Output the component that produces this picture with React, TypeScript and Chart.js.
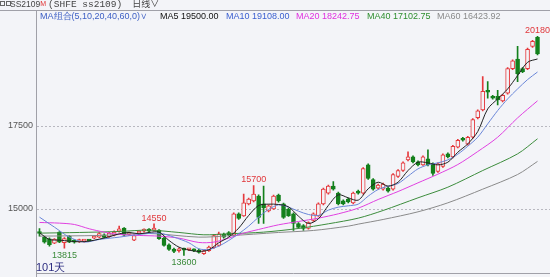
import React, { useEffect, useRef } from "react";
import { Chart, registerables } from "chart.js";

Chart.register(...registerables);

const FONT = '"Liberation Sans", Arial, sans-serif';
const BG = "#f3f4f8";
const UP = "#e5393d";
const DOWN = "#13801c";

// ---- data (101 trading days) ----
const opens = [
  14300, 14150, 14100, 13970, 14300, 13980, 14180, 14060, 14020, 14030,
  14045, 14120, 14150, 14220, 14160, 14210, 14330, 14420, 14230, 14060,
  14270, 14330, 14380, 14360, 14360, 14120, 13920, 13790, 13740, 13790,
  13770, 13780, 13760, 13650, 13740, 13830, 13900, 14240, 14290, 14210,
  14850, 14790, 15150, 15235, 15380, 15150, 14940, 15000, 15410, 15150,
  14990, 14850, 14560, 14500, 14410, 14650, 14790, 15150, 15470, 15680,
  15470, 15240, 15290, 15180, 15530, 15470, 16320, 15880, 15620, 15590,
  15620, 15590, 15970, 16150, 16470, 16560, 16410, 16320, 16500, 16350,
  16120, 16270, 16650, 16560, 16850, 17120, 16940, 17150, 17740, 17970,
  18560, 18380, 18380, 18240, 18470, 19210, 19500, 19210, 19210, 19880,
  20150,
];
const highs = [
  14410, 14180, 14130, 14110, 14320, 14140, 14200, 14080, 14090, 14080,
  14070, 14190, 14290, 14250, 14300, 14340, 14480, 14440, 14300, 14230,
  14330, 14400, 14410, 14550, 14380, 14150, 13950, 13820, 13830, 13820,
  13810, 13800, 13790, 13760, 13880, 14230, 14300, 14270, 14320, 14880,
  14880, 15440, 15320, 15700, 15420, 15680, 15120, 15410, 15440, 15170,
  15020, 14880, 14590, 14530, 14610, 14880, 15180, 15620, 15710, 15820,
  15500, 15270, 15320, 15500, 15560, 16240, 16350, 15910, 15740, 15770,
  15650, 16060, 16180, 16410, 16710, 16590, 16440, 16590, 16770, 16380,
  16380, 16650, 16680, 16910, 17090, 17150, 17180, 17710, 17970, 18970,
  18820, 18410, 18560, 18440, 19240, 19470, 19880, 19240, 19830, 20060,
  20180,
];
const lows = [
  14180, 13970, 13880, 13950, 13980, 13815, 13980, 13970, 13990, 14000,
  14010, 14100, 14130, 14120, 14140, 14190, 14300, 14190, 14200, 14040,
  14250, 14300, 14300, 14340, 14080, 13880, 13750, 13680, 13700, 13600,
  13740, 13710, 13670, 13630, 13720, 13810, 13880, 14120, 14190, 14180,
  14680, 14770, 15120, 15210, 14560, 14560, 14910, 14980, 15200, 14710,
  14770, 14350, 14410, 14350, 14390, 14620, 14770, 15120, 15440, 15560,
  15120, 15120, 15180, 15150, 15440, 15440, 15880, 15560, 15590, 15560,
  15500, 15560, 15940, 16120, 16440, 16380, 16290, 16300, 16290, 16000,
  16090, 16240, 16530, 16530, 16830, 17030, 16910, 17120, 17700, 17940,
  18320, 18290, 18120, 18210, 18440, 19180, 18820, 19090, 19180, 19850,
  19620,
];
const closes = [
  14260, 14000, 13920, 14090, 14000, 14110, 14000, 14000, 14050, 14060,
  14030, 14160, 14260, 14140, 14270, 14300, 14400, 14210, 14270, 14200,
  14300, 14360, 14330, 14390, 14100, 13900, 13780, 13720, 13800, 13760,
  13780, 13740, 13690, 13740, 13850, 14200, 14250, 14150, 14210, 14850,
  14710, 15180, 15290, 15440, 14740, 15030, 15090, 15380, 15240, 14740,
  14790, 14560, 14440, 14410, 14590, 14850, 15150, 15590, 15680, 15590,
  15150, 15150, 15210, 15470, 15470, 16210, 15910, 15590, 15710, 15740,
  15530, 16030, 16150, 16380, 16560, 16410, 16320, 16560, 16320, 16060,
  16350, 16620, 16560, 16880, 17060, 17060, 17150, 17680, 17940, 18530,
  18500, 18320, 18270, 18410, 19210, 19440, 19060, 19120, 19790, 20030,
  19650,
];

// moving-average lines as [day index, value]
const ma5Pts: [number, number][] = [
  [0, 14280], [2, 14080], [4, 14060], [6, 14030], [8, 14010], [10, 14030],
  [12, 14090], [14, 14160], [16, 14250], [18, 14290], [20, 14250], [22, 14290],
  [24, 14300], [26, 14050], [28, 13850], [30, 13760], [32, 13720], [34, 13770],
  [36, 13980], [38, 14150], [40, 14420], [42, 14800], [44, 15100], [46, 15140],
  [48, 15130], [50, 15060], [52, 14780], [54, 14560], [56, 14700], [58, 15100],
  [60, 15420], [62, 15330], [64, 15260], [66, 15600], [68, 15800], [70, 15680],
  [72, 15800], [74, 16150], [76, 16400], [78, 16380], [80, 16320], [82, 16400],
  [84, 16700], [86, 16950], [88, 17320], [90, 18000], [92, 18300], [94, 18600],
  [96, 19000], [98, 19400], [100, 19500],
];
const ma10Pts: [number, number][] = [
  [0, 14750], [3, 14450], [6, 14150], [9, 14000], [12, 14080], [16, 14150],
  [20, 14230], [24, 14270], [27, 14150], [30, 13980], [32, 13800], [34, 13780],
  [36, 13880], [38, 14050], [40, 14250], [42, 14480], [44, 14750], [46, 14980],
  [48, 15120], [50, 15050], [52, 14930], [54, 14830], [56, 14800], [58, 14960],
  [60, 15050], [62, 15090], [64, 15140], [66, 15380], [68, 15580], [70, 15680],
  [72, 15760], [74, 15980], [76, 16200], [78, 16320], [80, 16380], [82, 16470],
  [84, 16640], [86, 16880], [88, 17150], [90, 17550], [92, 17950], [94, 18300],
  [96, 18600], [98, 18880], [100, 19108],
];
const ma20Pts: [number, number][] = [
  [0, 14590], [4, 14570], [7, 14530], [10, 14400], [13, 14300], [16, 14230],
  [20, 14200], [24, 14180], [28, 14120], [32, 13990], [35, 14000], [38, 14120],
  [41, 14270], [44, 14380], [48, 14520], [52, 14620], [56, 14720], [60, 14850],
  [64, 15020], [68, 15280], [72, 15520], [76, 15780], [80, 16040], [84, 16330],
  [88, 16720], [92, 17150], [96, 17730], [100, 18243],
];
const ma40Pts: [number, number][] = [
  [0, 14270], [8, 14290], [16, 14320], [22, 14360], [28, 14290], [33, 14220],
  [38, 14250], [45, 14300], [52, 14410], [58, 14550], [64, 14720], [69, 14950],
  [76, 15330], [82, 15650], [89, 16150], [96, 16650], [100, 17103],
];
const ma60Pts: [number, number][] = [
  [0, 14180], [12, 14200], [22, 14260], [32, 14150], [38, 14190], [48, 14290],
  [55, 14350], [62, 14480], [64, 14540], [69, 14680], [76, 14910], [82, 15180],
  [89, 15590], [96, 16030], [100, 16424],
];

const yTicks = [15000, 17500];
const dayLabels = opens.map((_, i) => `D${i + 1}`);

const extremes = [
  { idx: 100, value: 20180, text: "20180", up: true },
  { idx: 43, value: 15700, text: "15700", up: true },
  { idx: 23, value: 14550, text: "14550", up: true },
  { idx: 5, value: 13815, text: "13815", up: false },
  { idx: 29, value: 13600, text: "13600", up: false },
];

const legendItems = [
  { text: "MA5 19500.00", color: "#111111", x: 160 },
  { text: "MA10 19108.00", color: "#3b5fd0", x: 226 },
  { text: "MA20 18242.75", color: "#e030e0", x: 296 },
  { text: "MA40 17102.75", color: "#2f8f2f", x: 367 },
  { text: "MA60 16423.92", color: "#8a8a8a", x: 437 },
];

function sparse(pts: [number, number][]) {
  const a: (number | null)[] = opens.map(() => null);
  pts.forEach(([i, v]) => {
    a[i] = v;
  });
  return a;
}

const framePlugin = {
  id: "frame",
  beforeDatasetsDraw(chart: any) {
    const { ctx, scales, width } = chart;
    const y = scales.y;
    const left = chart.chartArea.left;
    ctx.save();
    ctx.strokeStyle = "#b8b8c0";
    ctx.lineWidth = 1;
    ctx.setLineDash([2, 2]);
    yTicks.forEach((v) => {
      const py = Math.round(y.getPixelForValue(v)) + 0.5;
      ctx.beginPath();
      ctx.moveTo(left, py);
      ctx.lineTo(width, py);
      ctx.stroke();
    });
    ctx.setLineDash([]);
    ctx.strokeStyle = "#a0a0a8";
    ctx.beginPath();
    ctx.moveTo(0, 10.5);
    ctx.lineTo(width, 10.5);
    ctx.moveTo(left - 0.5, 10);
    ctx.lineTo(left - 0.5, 277);
    ctx.moveTo(left, 273.5);
    ctx.lineTo(width, 273.5);
    ctx.stroke();
    ctx.restore();
  },
  afterDatasetsDraw(chart: any) {
    const { ctx, scales } = chart;
    ctx.save();
    ctx.font = `9px ${FONT}`;
    ctx.textAlign = "center";
    extremes.forEach((e) => {
      const px = scales.x.getPixelForValue(e.idx);
      const py = scales.y.getPixelForValue(e.value);
      if (e.up) {
        ctx.fillStyle = "#e0363a";
        ctx.textBaseline = "bottom";
        ctx.fillText(e.text, px, py - 1);
      } else {
        ctx.fillStyle = "#3a8a3a";
        ctx.textBaseline = "top";
        ctx.fillText(e.text, px, py + 3);
      }
    });
    ctx.restore();
  },
};

export default function App() {
  const ref = useRef<HTMLCanvasElement>(null);
  useEffect(() => {
    document.body.style.margin = "0";
    const isUp = closes.map((c, i) => c >= opens[i]);
    const lineDs = (label: string, pts: [number, number][], color: string) => ({
      type: "line" as const,
      label,
      data: sparse(pts),
      borderColor: color,
      borderWidth: 1,
      pointRadius: 0,
      spanGaps: true,
      tension: 0.3,
      order: 0,
    });
    const chart = new Chart(ref.current!, {
      type: "bar",
      data: {
        labels: dayLabels,
        datasets: [
          lineDs("MA5", ma5Pts, "#222222"),
          lineDs("MA10", ma10Pts, "#6a86d8"),
          lineDs("MA20", ma20Pts, "#e040e0"),
          lineDs("MA40", ma40Pts, "#3c8c3c"),
          lineDs("MA60", ma60Pts, "#8a8a8a"),
          {
            type: "bar",
            label: "body",
            data: opens.map((o, i) => [Math.min(o, closes[i]), Math.max(o, closes[i])]) as any,
            backgroundColor: isUp.map((u) => (u ? BG : DOWN)),
            borderColor: isUp.map((u) => (u ? UP : DOWN)),
            borderWidth: 1,
            borderSkipped: false,
            barThickness: 4,
            minBarLength: 2,
            grouped: false,
            order: 1,
          } as any,
          {
            type: "bar",
            label: "wick",
            data: lows.map((l, i) => [l, highs[i]]) as any,
            backgroundColor: isUp.map((u) => (u ? UP : DOWN)),
            borderWidth: 0,
            barThickness: 1,
            grouped: false,
            order: 2,
          } as any,
        ],
      },
      options: {
        animation: false,
        responsive: false,
        devicePixelRatio: 1,
        layout: { padding: { top: 10, bottom: 4, right: 10, left: 0 } },
        plugins: { legend: { display: false }, tooltip: { enabled: false } },
        scales: {
          x: { type: "category", display: false, offset: true, grid: { display: false } },
          y: {
            position: "left",
            min: 13235,
            max: 20970,
            afterFit: (s: any) => {
              s.width = 37;
            },
            afterBuildTicks: (s: any) => {
              s.ticks = yTicks.map((v) => ({ value: v }));
            },
            grid: { display: false, drawTicks: false },
            border: { display: false },
            ticks: {
              font: { size: 9, family: FONT },
              color: "#555555",
              padding: 4,
              callback: (v: any) => String(v),
            },
          },
        },
      } as any,
      plugins: [framePlugin],
    });
    return () => chart.destroy();
  }, []);

  return (
    <div
      style={{
        position: "relative",
        width: 550,
        height: 277,
        background: BG,
        overflow: "hidden",
        fontFamily: FONT,
      }}
    >
      <canvas
        ref={ref}
        width={550}
        height={277}
        style={{ position: "absolute", left: 0, top: 0, width: 550, height: 277 }}
      />
      <div style={{ position: "absolute", left: 0, top: 1, display: "flex", gap: 1 }}>
        <span style={{ width: 3, height: 3, border: "1px solid #666", display: "block" }} />
        <span style={{ width: 3, height: 3, border: "1px solid #666", display: "block" }} />
      </div>
      <div
        style={{
          position: "absolute",
          left: 10,
          top: -2,
          fontSize: 9,
          lineHeight: "11px",
          color: "#444",
          whiteSpace: "nowrap",
        }}
      >
        <span style={{ fontFamily: FONT, fontSize: 8.5 }}>SS2109</span>
        <span style={{ color: "#e03030", fontSize: 7, verticalAlign: "top" }}>M</span>
        <span style={{ fontFamily: '"Liberation Mono", monospace', fontSize: 9.5, marginLeft: 2 }}>
          (SHFE ss2109)
        </span>
        <span style={{ fontFamily: '"Noto Sans CJK SC", sans-serif', fontSize: 9, marginLeft: 10 }}>
          日线∨
        </span>
      </div>
      <div
        style={{
          position: "absolute",
          left: 40,
          top: 11,
          fontSize: 9,
          lineHeight: "11px",
          color: "#3d5fc4",
          whiteSpace: "nowrap",
        }}
      >
        MA组合(5,10,20,40,60,0)∨
      </div>
      {legendItems.map((it) => (
        <div
          key={it.text}
          style={{
            position: "absolute",
            left: it.x,
            top: 11,
            fontSize: 9,
            lineHeight: "11px",
            color: it.color,
            whiteSpace: "nowrap",
          }}
        >
          {it.text}
        </div>
      ))}
      <div
        style={{
          position: "absolute",
          left: 36,
          top: 261,
          fontSize: 11,
          lineHeight: "12px",
          color: "#2c2c80",
          whiteSpace: "nowrap",
        }}
      >
        101天
      </div>
    </div>
  );
}
